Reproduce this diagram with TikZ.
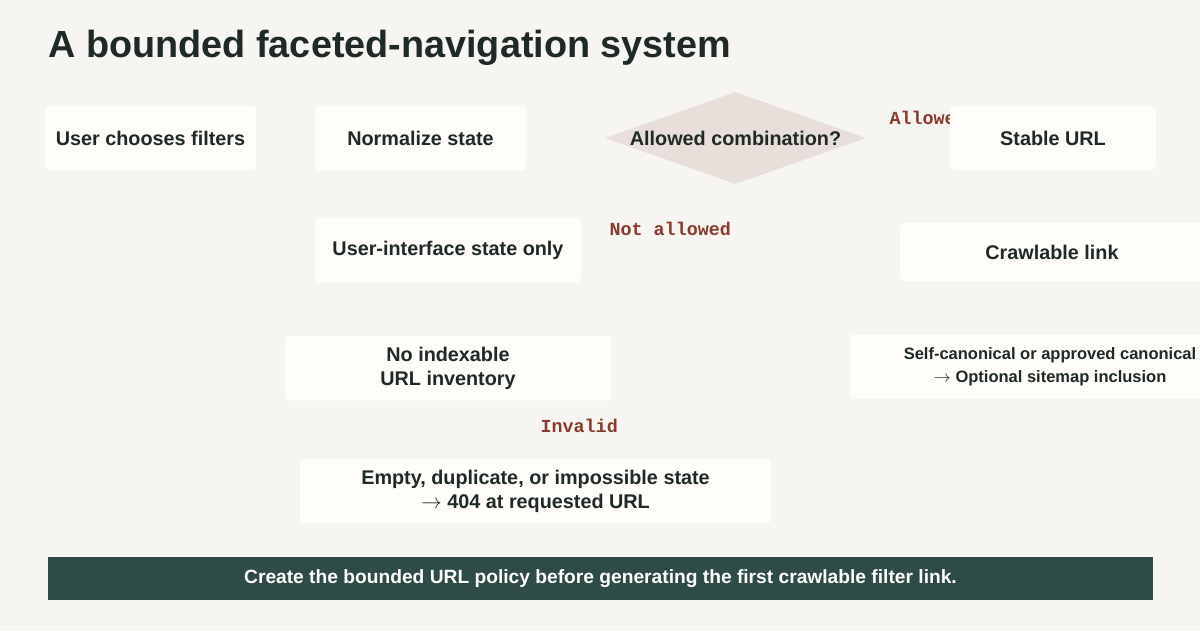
\documentclass[tikz,border=0pt]{standalone}
\usepackage{fontspec}
\setmainfont{Liberation Sans}
\newfontfamily\branchfont{Liberation Mono}
\usetikzlibrary{shapes.geometric}
\definecolor{paper}{HTML}{F6F5F2}
\definecolor{boxfill}{HTML}{FEFDF9}
\definecolor{ink}{HTML}{1F2A27}
\definecolor{checkfill}{HTML}{E8DEDA}
\definecolor{branchred}{HTML}{8B3A2F}
\definecolor{footerfill}{HTML}{2F4B46}
\begin{document}
\begin{tikzpicture}[x=1pt,y=-1pt,
    stepbox/.style={fill=boxfill, rounded corners=4pt, inner sep=0pt, align=center,
        text=ink, font=\bfseries\fontsize{19.8}{24}\selectfont, minimum height=64pt},
    check/.style={diamond, fill=checkfill, inner sep=0pt, minimum width=261pt, minimum height=92pt},
    branch/.style={anchor=base west, text=branchred, font=\branchfont\bfseries\fontsize{18.4}{20}\selectfont}]

    % page
    \useasboundingbox (0,0) rectangle (1200,630);
    \fill[paper] (0,0) rectangle (1200,630);

    \node[anchor=base west, text=ink, font=\bfseries\fontsize{37.8}{44}\selectfont] (title) at (45,57) {A bounded faceted-navigation system};

    % branch labels
    \node[branch] (allowed) at (886,124.5) {Allowed};
    \node[branch] (notallowed) at (606,235.5) {Not allowed};
    \node[branch] (invalid) at (537,432.5) {Invalid};

    % steps
    \node[stepbox, minimum width=211pt] (choose) at (150.5,138) {User chooses filters};
    \node[stepbox, minimum width=211pt] (normalize) at (420.5,138) {Normalize state};
    \node[check, label={[text=ink, font=\bfseries\fontsize{19.8}{24}\selectfont]center:Allowed combination?}] (combination) at (735.5,138) {};
    \node[stepbox, minimum width=206pt] (stable) at (1053,138) {Stable URL};
    \node[stepbox, minimum width=266pt] (uionly) at (448,250) {User-interface state only};
    \node[stepbox, minimum width=304pt, minimum height=58pt] (crawlable) at (1052,252) {Crawlable link};
    \node[stepbox, minimum width=326pt, minimum height=65pt] (noindex) at (448,368) {No indexable\\URL inventory};
    \node[stepbox, minimum width=400pt, font=\bfseries\fontsize{16.5}{23}\selectfont] (canonical) at (1050,366.5) {Self-canonical or approved canonical\\$\rightarrow$ Optional sitemap inclusion};
    \node[stepbox, minimum width=471pt] (invalidstate) at (535.5,491) {Empty, duplicate, or impossible state\\$\rightarrow$ 404 at requested URL};

    % footer
    \node[fill=footerfill, text=white, inner sep=0pt, minimum width=1105pt, minimum height=43pt,
        font=\bfseries\fontsize{19.2}{20}\selectfont] (policy) at (600.5,578.5)
        {Create the bounded URL policy before generating the first crawlable filter link.};

\end{tikzpicture}
\end{document}
